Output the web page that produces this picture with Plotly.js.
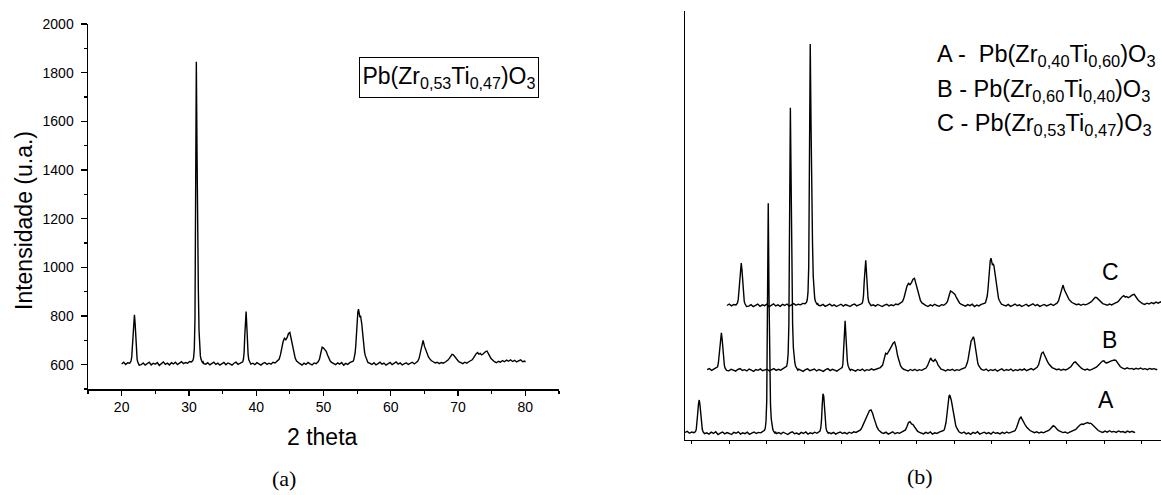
<!DOCTYPE html>
<html>
<head>
<meta charset="utf-8">
<script src="https://cdn.plot.ly/plotly-3.0.1.min.js"></script>
<style>html,body{margin:0;padding:0;background:#fff;}#chart{width:1161px;height:495px;}</style>
</head>
<body>
<div id="chart"></div>
<script>
// Shared 2-theta sampling positions (degrees)
var THETA = [
20.0,20.3,20.6,20.9,21.2,
21.4,21.5,21.6,21.7,21.8,21.9,22.0,22.1,22.2,22.3,22.4,22.5,22.6,
22.9,23.2,23.5,23.8,24.1,24.4,24.7,25.0,25.3,25.6,25.9,26.2,26.5,26.8,27.1,27.4,27.7,28.0,28.3,28.6,28.9,29.2,29.5,29.8,30.1,30.4,
30.6,30.7,30.8,30.9,31.0,31.1,31.2,31.3,31.4,31.5,31.6,31.7,31.8,31.9,32.0,32.1,32.2,
32.5,32.8,33.1,33.4,33.7,34.0,34.3,34.6,34.9,35.2,35.5,35.8,36.1,36.4,36.7,37.0,37.3,37.6,37.9,
38.0,38.1,38.2,38.3,38.4,38.5,38.6,38.7,38.8,38.9,39.0,39.1,39.2,
39.5,39.8,40.1,40.4,40.7,41.0,41.3,41.6,41.9,42.2,42.5,42.8,43.1,
43.4,43.6,43.8,44.0,44.2,44.4,44.6,44.8,45.0,45.2,45.4,45.6,45.8,46.0,46.2,
46.5,46.8,47.1,47.4,47.7,48.0,48.3,48.6,48.9,49.2,
49.4,49.6,49.8,50.0,50.2,50.4,50.6,50.8,51.0,51.2,
51.5,51.8,52.1,52.4,52.7,53.0,53.3,53.6,53.9,54.2,
54.4,54.5,54.6,54.7,54.8,54.9,55.0,55.1,55.2,55.3,55.4,55.5,55.6,55.7,55.8,55.9,56.0,56.1,56.2,56.3,56.4,56.5,56.6,
56.9,57.2,57.5,57.8,58.1,58.4,58.7,59.0,59.3,59.6,59.9,60.2,60.5,60.8,61.1,61.4,61.7,62.0,62.3,62.6,62.9,63.2,63.5,63.8,
64.0,64.2,64.4,64.6,64.8,65.0,65.2,65.4,65.6,65.8,66.0,
66.3,66.6,66.9,67.2,67.5,67.8,68.1,
68.3,68.5,68.7,68.9,69.1,69.3,69.5,69.7,69.9,70.1,
70.4,70.7,71.0,71.3,71.6,71.9,
72.1,72.3,72.5,72.7,72.9,73.1,73.3,73.5,73.7,73.9,74.1,74.3,74.5,74.7,74.9,75.1,
75.4,75.7,76.0,76.3,76.6,76.9,77.2,77.5,77.8,78.1,78.4,78.7,79.0,79.3,79.6,79.9,80.0
];

// C - Pb(Zr0,53Ti0,47)O3 intensities (u.a.)
var COUNTS_C = [
603,610,601,608,606,
615,632,680,752,790,805,770,705,650,622,611,604,598,
600,607,598,604,610,599,606,602,609,597,605,611,601,606,599,608,603,610,600,607,612,604,609,606,613,611,
618,630,665,790,1380,1845,1480,990,905,740,665,636,622,614,609,612,604,
602,608,599,605,610,601,606,598,604,609,600,607,603,598,606,610,601,605,609,
612,622,650,720,800,818,760,680,640,620,611,606,602,
606,600,608,603,598,605,609,601,606,602,610,607,614,
622,640,668,695,708,702,712,728,732,705,668,642,626,615,609,
604,598,606,601,609,603,599,607,604,612,
622,648,672,668,660,655,640,626,615,609,
604,600,607,602,609,598,605,601,608,611,
614,620,630,648,680,730,785,815,828,808,795,802,790,765,735,700,672,652,638,628,620,614,609,
605,601,608,599,604,610,602,606,598,603,609,600,605,611,602,607,599,604,608,601,606,610,603,609,
614,625,650,685,700,676,660,645,632,624,617,
612,607,610,604,609,606,611,
614,619,626,636,642,640,632,624,617,612,
608,604,610,606,612,615,
620,628,638,645,650,643,646,640,644,650,654,656,648,635,625,618,
612,608,614,610,617,612,619,614,620,613,618,611,616,620,612,615,610
];

// A - Pb(Zr0,40Ti0,60)O3 intensities (u.a.)
var COUNTS_A = [
608,613,604,610,607,
612,622,650,700,745,762,738,690,648,624,612,606,602,
606,600,609,603,611,598,605,610,601,607,603,598,608,604,611,600,606,602,609,599,605,610,603,608,606,612,
618,628,660,760,1320,1697,1260,880,740,672,640,624,614,609,605,609,602,
607,601,609,603,598,606,611,602,605,599,608,603,610,600,606,602,609,604,611,
614,628,665,740,792,780,715,660,630,615,608,604,607,
602,608,600,606,610,603,607,601,609,604,611,608,615,
620,632,648,667,682,698,712,715,700,676,652,633,620,612,607,
603,609,600,606,611,602,607,604,610,613,
620,636,655,659,648,645,634,622,614,609,
605,601,608,603,610,600,606,603,609,612,
613,617,624,636,655,685,725,760,780,786,778,762,742,718,694,674,655,641,632,624,618,613,609,
604,610,601,606,599,608,603,611,600,605,609,602,607,600,610,604,606,601,608,603,610,605,609,612,
616,630,652,672,681,666,652,641,631,623,617,
612,607,611,605,610,606,612,
614,618,624,632,640,636,627,620,615,611,
607,610,604,609,613,616,
622,630,638,644,648,646,650,653,655,650,652,646,638,630,622,617,
612,608,614,609,616,610,613,608,615,610,612,607,614,609,613,608,611
];

// B - Pb(Zr0,60Ti0,40)O3 intensities (u.a.)
var COUNTS_B = [
606,611,603,609,614,
620,638,680,735,772,781,752,700,652,626,613,607,603,
601,608,604,599,607,611,602,606,600,609,604,598,607,603,610,601,605,608,600,606,611,603,608,604,610,614,
622,640,680,820,1420,1850,1500,1020,820,710,662,638,622,613,608,604,609,
603,598,606,610,601,605,609,600,607,603,598,606,611,602,608,604,599,607,612,
616,632,690,790,838,770,690,645,624,613,607,603,608,
604,599,607,602,609,600,606,603,610,605,608,612,616,
628,654,684,680,690,705,718,732,738,712,672,642,624,614,608,
604,600,607,602,608,601,606,603,609,614,
626,648,662,650,646,655,645,628,616,609,
605,600,607,603,608,601,606,603,609,613,
616,621,628,640,656,680,708,730,742,748,758,762,752,728,696,668,648,635,626,619,614,610,607,
603,609,600,606,602,608,599,605,610,601,607,603,609,600,606,602,608,604,610,601,607,611,605,612,
617,630,658,684,690,672,656,643,632,623,616,
611,606,609,603,608,605,610,
614,620,630,640,643,635,626,618,613,609,
605,609,603,608,612,618,
625,634,642,647,648,640,638,642,646,648,650,652,650,640,628,620,
614,609,615,610,612,607,613,609,614,608,611,606,612,608,611,606,610
];

var LEFT_LABEL = 'Pb(Zr<sub>0,53</sub>Ti<sub>0,47</sub>)O<sub>3</sub>';
var RIGHT_LABELS = [
  'A -\u00a0 Pb(Zr<sub>0,40</sub>Ti<sub>0,60</sub>)O<sub>3</sub>',
  'B - Pb(Zr<sub>0,60</sub>Ti<sub>0,40</sub>)O<sub>3</sub>',
  'C - Pb(Zr<sub>0,53</sub>Ti<sub>0,47</sub>)O<sub>3</sub>'
];
var SERIES_NAMES = ['A', 'B', 'C'];

// waterfall offsets for panel (b) (display only)
var SHIFT_X = {A: 0, B: 2.95, C: 5.6};
var SHIFT_Y = {A: -572, B: -272, C: 36};

[COUNTS_A, COUNTS_B, COUNTS_C].forEach(function (a, i) {
  if (a.length !== THETA.length) throw new Error('length mismatch ' + i + ': ' + a.length + ' vs ' + THETA.length);
});

var W = 1161, H = 495;
function px(x) { return x / W; }
function py(y) { return 1 - y / H; }

var SANS = 'Liberation Sans, Arial, sans-serif';
var SERIF = 'Liberation Serif, Times New Roman, serif';
var lineStyle = {color: '#000', width: 1.4};

var dataMap = {A: COUNTS_A, B: COUNTS_B, C: COUNTS_C};
var traces = [{
  x: THETA, y: COUNTS_C, type: 'scatter', mode: 'lines',
  xaxis: 'x', yaxis: 'y', line: lineStyle, hoverinfo: 'skip'
}];
SERIES_NAMES.forEach(function (s) {
  traces.push({
    x: THETA.map(function (t) { return t + SHIFT_X[s]; }),
    y: dataMap[s].map(function (v) { return v + SHIFT_Y[s]; }),
    type: 'scatter', mode: 'lines', xaxis: 'x2', yaxis: 'y2',
    line: lineStyle, hoverinfo: 'skip', name: s
  });
});

var tickFont = {family: SANS, size: 14, color: '#000'};

var layout = {
  width: W, height: H,
  margin: {l: 0, r: 0, t: 0, b: 0, pad: 0},
  paper_bgcolor: '#fff', plot_bgcolor: 'rgba(0,0,0,0)',
  showlegend: false,
  xaxis: {
    domain: [px(88), px(559)], range: [15, 85], anchor: 'y',
    showline: true, linecolor: '#000', linewidth: 1.5,
    showgrid: false, zeroline: false,
    ticks: 'outside', ticklen: 5, tickwidth: 1.3, tickcolor: '#000',
    tick0: 20, dtick: 10, tickfont: tickFont,
    minor: {ticks: 'outside', ticklen: 3, tickwidth: 1.2, tickcolor: '#000', dtick: 5, tick0: 15, showgrid: false}
  },
  yaxis: {
    domain: [py(389), py(24)], range: [500, 2000], anchor: 'x',
    showline: true, linecolor: '#000', linewidth: 1.5,
    showgrid: false, zeroline: false,
    ticks: 'outside', ticklen: 6, tickwidth: 1.3, tickcolor: '#000',
    tick0: 600, dtick: 200, tickfont: tickFont, ticklabelstandoff: 4,
    minor: {ticks: 'outside', ticklen: 3, tickwidth: 1.2, tickcolor: '#000', dtick: 100, tick0: 500, showgrid: false}
  },
  xaxis2: {
    domain: [px(685), 1], range: [20, 83.47], anchor: 'y2',
    showline: true, linecolor: '#000', linewidth: 1.3,
    showgrid: false, zeroline: false,
    ticks: 'outside', ticklen: 3, tickwidth: 1, tickcolor: '#000',
    tick0: 20.9, dtick: 5, showticklabels: false
  },
  yaxis2: {
    domain: [py(440), py(11)], range: [0, 2038], anchor: 'x2',
    showline: true, linecolor: '#000', linewidth: 1.3,
    showgrid: false, zeroline: false, ticks: '', showticklabels: false
  },
  annotations: [
    {text: 'Intensidade (u.a.)', xref: 'paper', yref: 'paper', x: px(24), y: py(221),
     textangle: -90, showarrow: false, xanchor: 'center', yanchor: 'middle',
     font: {family: SANS, size: 23, color: '#000'}},
    {text: '2 theta', xref: 'paper', yref: 'paper', x: px(322), y: py(437),
     showarrow: false, xanchor: 'center', yanchor: 'middle',
     font: {family: SANS, size: 23, color: '#000'}},
    {text: '(a)', xref: 'paper', yref: 'paper', x: px(284), y: py(478),
     showarrow: false, xanchor: 'center', yanchor: 'middle',
     font: {family: SERIF, size: 22, color: '#000'}},
    {text: '(b)', xref: 'paper', yref: 'paper', x: px(919.6), y: py(476),
     showarrow: false, xanchor: 'center', yanchor: 'middle',
     font: {family: SERIF, size: 22, color: '#000'}},
    {text: LEFT_LABEL, xref: 'paper', yref: 'paper', x: px(449), y: py(77.5),
     showarrow: false, xanchor: 'center', yanchor: 'middle',
     width: 178, height: 39, borderpad: 0, bordercolor: '#000', borderwidth: 1,
     font: {family: SANS, size: 23, color: '#000'}},
    {text: RIGHT_LABELS[0], xref: 'paper', yref: 'paper', x: px(935), y: py(55.3),
     showarrow: false, xanchor: 'left', yanchor: 'middle', align: 'left',
     font: {family: SANS, size: 23.5, color: '#000'}},
    {text: RIGHT_LABELS[1], xref: 'paper', yref: 'paper', x: px(935), y: py(90),
     showarrow: false, xanchor: 'left', yanchor: 'middle', align: 'left',
     font: {family: SANS, size: 23.5, color: '#000'}},
    {text: RIGHT_LABELS[2], xref: 'paper', yref: 'paper', x: px(935), y: py(124),
     showarrow: false, xanchor: 'left', yanchor: 'middle', align: 'left',
     font: {family: SANS, size: 23.5, color: '#000'}},
    {text: SERIES_NAMES[2], xref: 'paper', yref: 'paper', x: px(1110.7), y: py(271.7),
     showarrow: false, xanchor: 'center', yanchor: 'middle',
     font: {family: SANS, size: 23, color: '#000'}},
    {text: SERIES_NAMES[1], xref: 'paper', yref: 'paper', x: px(1109), y: py(340),
     showarrow: false, xanchor: 'center', yanchor: 'middle',
     font: {family: SANS, size: 23, color: '#000'}},
    {text: SERIES_NAMES[0], xref: 'paper', yref: 'paper', x: px(1106), y: py(400),
     showarrow: false, xanchor: 'center', yanchor: 'middle',
     font: {family: SANS, size: 23, color: '#000'}}
  ]
};

Plotly.newPlot('chart', traces, layout, {staticPlot: true, displayModeBar: false});
</script>
</body>
</html>
